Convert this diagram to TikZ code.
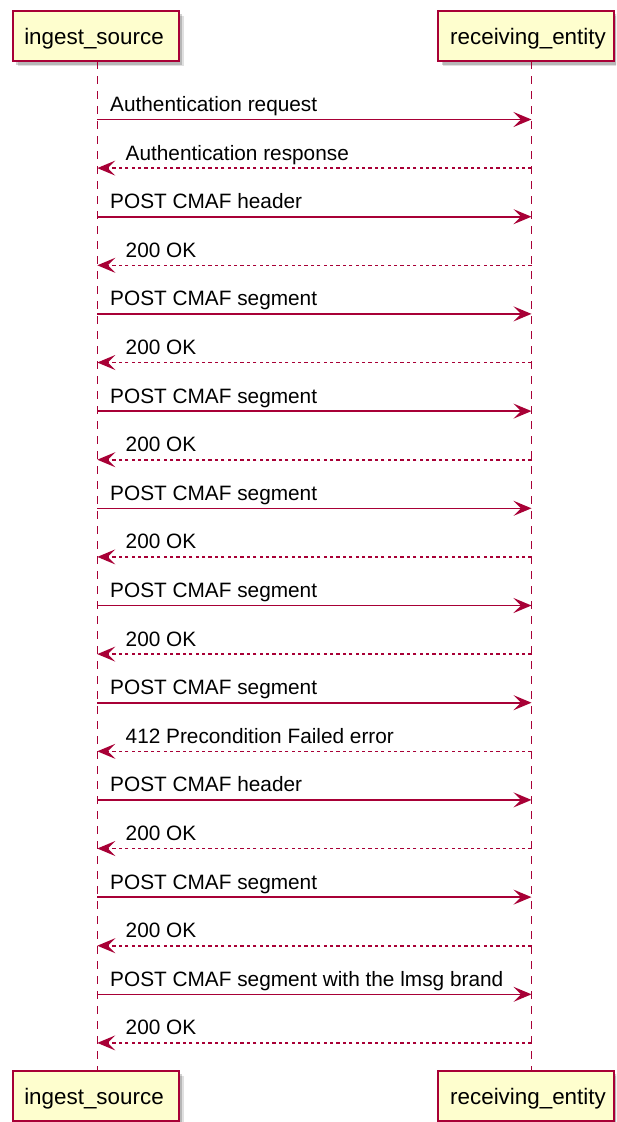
\documentclass[tikz,border=0pt]{standalone}
\usepackage{fontspec}
\setmainfont{Liberation Sans}
\usetikzlibrary{arrows.meta}
\definecolor{pbord}{HTML}{A80036}
\definecolor{pfill}{HTML}{FEFECE}
\tikzset{
  participant/.style={draw=pbord, fill=pfill, line width=2pt, minimum width=166pt, minimum height=50.5pt, inner sep=0pt, font=\fontsize{22.4}{26}\selectfont, text=black},
  lifeline/.style={draw=pbord, line width=1.6pt, dash pattern=on 8pt off 7pt},
  msgarrow/.style={draw=pbord, line width=1.6pt, -{Stealth[length=18pt, width=15pt, inset=7.5pt]}},
  retarrow/.style={msgarrow, dash pattern=on 3.2pt off 3.2pt},
  msglabel/.style={anchor=base west, inner sep=0pt, font=\fontsize{20.8}{24}\selectfont, text=black},
  shadowbox/.style={fill=black, opacity=#1, draw=none}
}
\begin{document}
\begin{tikzpicture}[x=1pt, y=-1pt]
\useasboundingbox (0,0) rectangle (616,1122);
\clip (0,0) rectangle (616,1122);
\fill[white] (0,0) rectangle (616,1122);
% shadows
\foreach \bx/\by/\bw in {12.5/10.5/166, 438/10.5/176, 12.5/1070.5/166, 438/1070.5/176}{
  \fill[shadowbox=0.12] (\bx+5,\by+5) rectangle ++(\bw,50.5);
  \fill[shadowbox=0.18] (\bx+3.5,\by+3.5) rectangle ++(\bw,50.5);
}
% participants
\node[participant, minimum width=166pt] (Atop) at (95.5,35.75) {};
\node[participant, minimum width=176pt] (Btop) at (526,35.75) {};
\node[participant, minimum width=166pt] (Abot) at (95.5,1095.75) {};
\node[participant, minimum width=176pt] (Bbot) at (526,1095.75) {};
\node[anchor=base, inner sep=0pt, font=\fontsize{22.4}{26}\selectfont] (Atopt) at (94,44.5) {ingest\_source};
\node[anchor=base, inner sep=0pt, font=\fontsize{22.4}{26}\selectfont] (Btopt) at (528,44.5) {receiving\_entity};
\node[anchor=base, inner sep=0pt, font=\fontsize{22.4}{26}\selectfont] (Abott) at (94,1104.5) {ingest\_source};
\node[anchor=base, inner sep=0pt, font=\fontsize{22.4}{26}\selectfont] (Bbott) at (528,1104.5) {receiving\_entity};
% lifelines
\coordinate (As) at (97.3,61);
\coordinate (Ae) at (97.3,1070.5);
\coordinate (Bs) at (531.5,61);
\coordinate (Be) at (531.5,1070.5);
\draw[lifeline] (As) -- (Ae);
\draw[lifeline] (Bs) -- (Be);
% messages
\foreach \i/\t/\txt in {
  0/r/Authentication request,
  1/d/Authentication response,
  2/r/POST CMAF header,
  3/d/200 OK,
  4/r/POST CMAF segment,
  5/d/200 OK,
  6/r/POST CMAF segment,
  7/d/200 OK,
  8/r/POST CMAF segment,
  9/d/200 OK,
  10/r/POST CMAF segment,
  11/d/200 OK,
  12/r/POST CMAF segment,
  13/d/412 Precondition Failed error,
  14/r/POST CMAF header,
  15/d/200 OK,
  16/r/POST CMAF segment,
  17/d/200 OK,
  18/r/POST CMAF segment with the lmsg brand,
  19/d/200 OK}{
  \pgfmathsetmacro{\yy}{119.5+\i*48.6}
  \coordinate (A\i) at (97.3,\yy);
  \coordinate (B\i) at (531.5,\yy);
  \if\t r
    \draw[msgarrow] (A\i) -- (B\i);
    \node[msglabel] (L\i) at (110,\yy-8) {\txt};
  \else
    \draw[retarrow] (B\i) -- (A\i);
    \node[msglabel] (L\i) at (125.5,\yy-8) {\txt};
  \fi
}
\end{tikzpicture}
\end{document}
